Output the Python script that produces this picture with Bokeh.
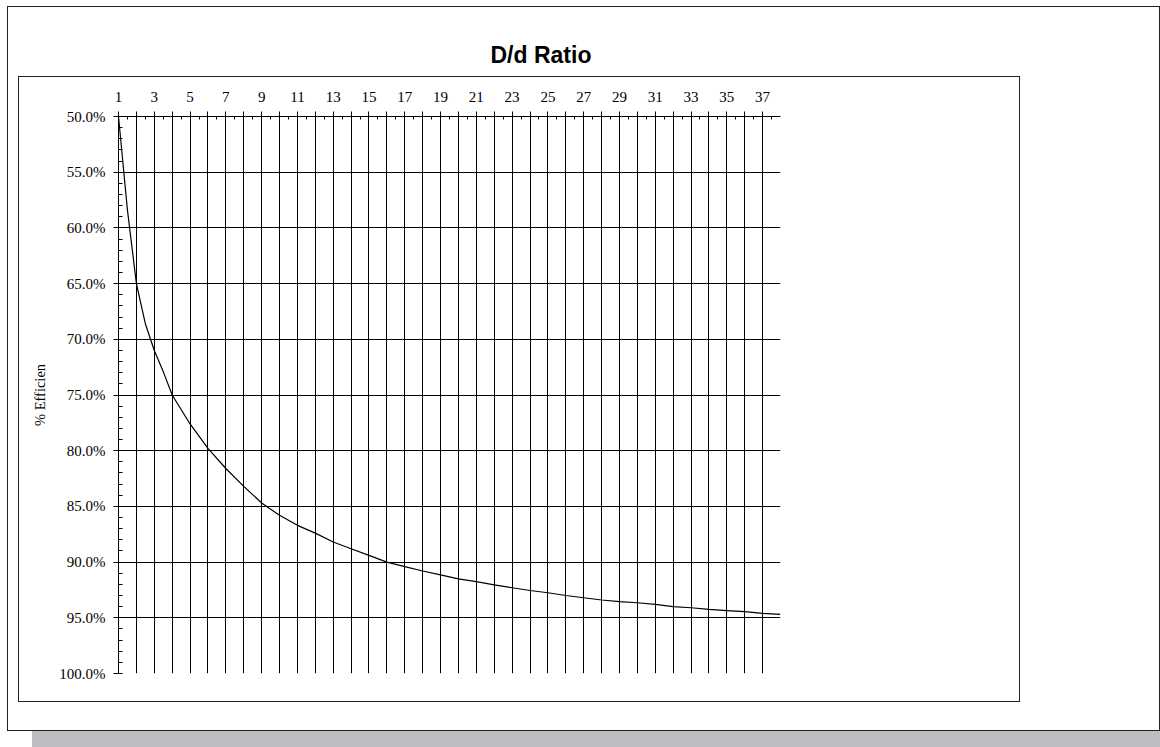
from bokeh.plotting import figure
from bokeh.models import Range1d, FixedTicker, PrintfTickFormatter, InlineStyleSheet
from bokeh.embed import file_html
from bokeh.resources import INLINE

# ---- data ----
dd_ratio = [1, 1.5, 2, 2.5, 3, 3.5, 4, 5, 6, 7, 8, 9, 10, 11, 12, 13, 14, 15, 16, 17, 18, 19, 20,
            21, 22, 23, 24, 25, 26, 27, 28, 29, 30, 31, 32, 33, 34, 35, 36, 37, 38]
efficiency = [50.0, 58.4, 65.0, 68.6, 71.0, 72.9, 75.0, 77.6, 79.8, 81.6, 83.2, 84.7, 85.8, 86.7,
              87.4, 88.2, 88.8, 89.4, 90.0, 90.4, 90.8, 91.15, 91.5, 91.75, 92.05, 92.3, 92.55,
              92.75, 93.0, 93.2, 93.4, 93.55, 93.65, 93.8, 94.0, 94.1, 94.25, 94.35, 94.45, 94.6, 94.7]
x_categories = list(range(1, 38))
x_tick_labels = {c: (str(c) if c % 2 == 1 else "") for c in x_categories}
y_major = [50, 55, 60, 65, 70, 75, 80, 85, 90, 95, 100]
y_minor = list(range(50, 101))
title_text = "D/d Ratio"
y_label = "% Efficien"

W, H = 1160, 747
FL, FR, FT, FB = 118, 780, 116, 673  # frame edges in canvas px

p = figure(width=W, height=H, output_backend="svg", toolbar_location=None,
           x_range=Range1d(1, 38), y_range=Range1d(100, 50),
           x_axis_location="above",
           min_border_left=FL, min_border_right=W - FR,
           min_border_top=FT, min_border_bottom=H - FB)
p.outline_line_color = None
p.background_fill_color = "white"
p.border_fill_color = "white"

# title
p.title.text = title_text
p.title.align = "left"
p.title.offset = 372
p.title.standoff = 41
p.title.text_font = "Liberation Sans"
p.title.text_font_style = "bold"
p.title.text_font_size = "23px"
p.title.text_color = "black"

serif = "Liberation Serif"

xa = p.xaxis[0]
xa.ticker = FixedTicker(ticks=x_categories, minor_ticks=[c + 0.5 for c in x_categories])
xa.major_label_overrides = x_tick_labels
xa.major_label_text_font = serif
xa.major_label_text_font_size = "15px"
xa.major_label_text_color = "black"
xa.major_label_standoff = 10
xa.major_tick_out = 5
xa.major_tick_in = 0
xa.minor_tick_in = 3
xa.minor_tick_out = 0
xa.axis_line_color = "black"
xa.major_tick_line_color = "black"
xa.minor_tick_line_color = "black"

ya = p.yaxis[0]
ya.ticker = FixedTicker(ticks=y_major, minor_ticks=y_minor)
ya.formatter = PrintfTickFormatter(format="%.1f%%")
ya.major_label_text_font = serif
ya.major_label_text_font_size = "15px"
ya.major_label_text_color = "black"
ya.major_label_standoff = 8
ya.major_tick_out = 5
ya.major_tick_in = 0
ya.minor_tick_in = 4
ya.minor_tick_out = 0
ya.axis_line_color = "black"
ya.major_tick_line_color = "black"
ya.minor_tick_line_color = "black"
ya.axis_label = y_label
ya.axis_label_text_font = serif
ya.axis_label_text_font_size = "14.5px"
ya.axis_label_text_font_style = "normal"
ya.axis_label_text_color = "black"
ya.axis_label_standoff = 8

p.xgrid.ticker = FixedTicker(ticks=x_categories)
p.ygrid.ticker = FixedTicker(ticks=y_major)
for g in (p.xgrid[0], p.ygrid[0]):
    g.grid_line_color = "black"
    g.grid_line_alpha = 1.0
    g.grid_line_width = 1

p.line(dd_ratio, efficiency, line_color="black", line_width=1.2)

# chart box, plot-area box and grey strip drawn as CSS overlays on the figure element
css = """
:host { position: relative; }
:host::before {
  content: ""; position: absolute; box-sizing: border-box;
  left: 7px; top: 6px; width: 1153px; height: 725px;
  border: 1.5px solid #222222;
  box-shadow: 25px 16px 0 0 #bcbdc0;
  pointer-events: none; z-index: 10;
}
:host::after {
  content: ""; position: absolute; box-sizing: border-box;
  left: 18px; top: 76px; width: 1002px; height: 626px;
  border: 1.5px solid #222222;
  pointer-events: none; z-index: 10;
}
"""
p.stylesheets = [InlineStyleSheet(css=css)]

open("out.html", "w").write(file_html(p, INLINE))
